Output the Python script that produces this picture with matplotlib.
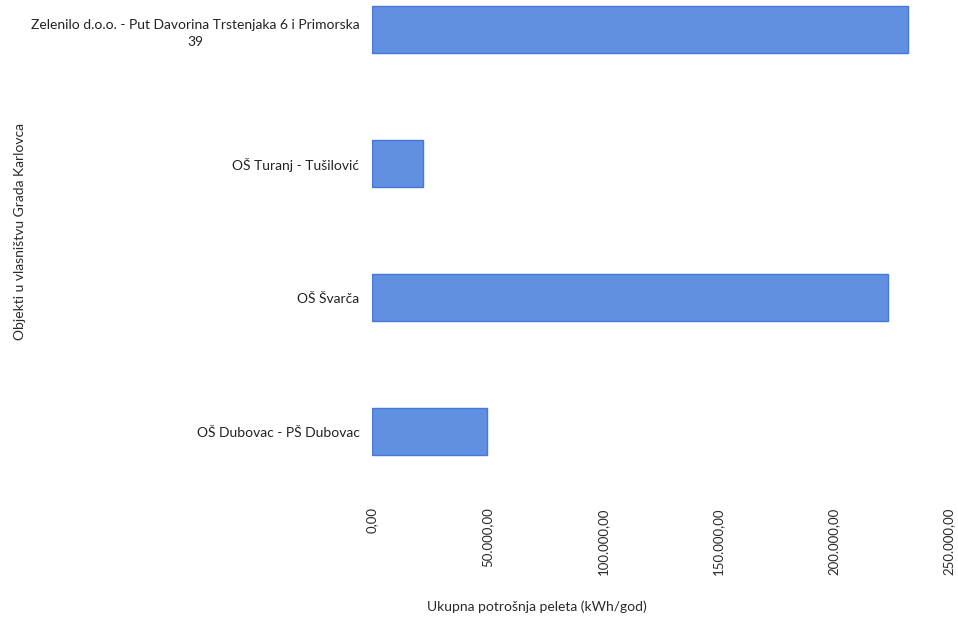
import matplotlib.pyplot as plt
import numpy as np

objekti = [
    "OŠ Dubovac - PŠ Dubovac",
    "OŠ Švarča",
    "OŠ Turanj - Tušilović",
    "Zelenilo d.o.o. - Put Davorina Trstenjaka 6 i Primorska\n39",
]
potrosnja = [49800, 223600, 22100, 232200]
x_ticks = [0, 50000, 100000, 150000, 200000, 250000]


def hr_format(v):
    s = f"{v:,.2f}"
    return s.replace(",", "X").replace(".", ",").replace("X", ".")


plt.rcParams["font.family"] = ["Lato", "DejaVu Sans"]

fig = plt.figure(figsize=(9.58, 6.19), dpi=100)
ax = fig.add_axes([372 / 958, 1 - 499 / 619, (949 - 372) / 958, 499 / 619])

y = np.arange(len(objekti))
ax.barh(y, potrosnja, height=0.35, color="#6190e0", edgecolor="#4479da", linewidth=1.0)

ax.set_xlim(0, 250000)
ax.set_ylim(-0.5, 3.22)
ax.set_xticks(x_ticks)
ax.set_xticklabels([hr_format(v) for v in x_ticks], rotation=90, fontsize=9.5, color="#2a2a2a")
ax.set_yticks(y)
ax.set_yticklabels(objekti, fontsize=10, color="#222222", multialignment="center", linespacing=1.5)
ax.tick_params(axis="both", length=0)
ax.tick_params(axis="x", pad=6)
ax.tick_params(axis="y", pad=9)

for s in ax.spines.values():
    s.set_visible(False)

fig.text(537 / 958, 1 - 607 / 619, "Ukupna potrošnja peleta (kWh/god)", ha="center", va="center",
         fontsize=10, color="#2a2a2a")
fig.text(20 / 958, 1 - 232 / 619, "Objekti u vlasništvu Grada Karlovca", ha="center", va="center",
         rotation=90, fontsize=10, color="#2a2a2a")

plt.savefig("out.png", dpi=100)
